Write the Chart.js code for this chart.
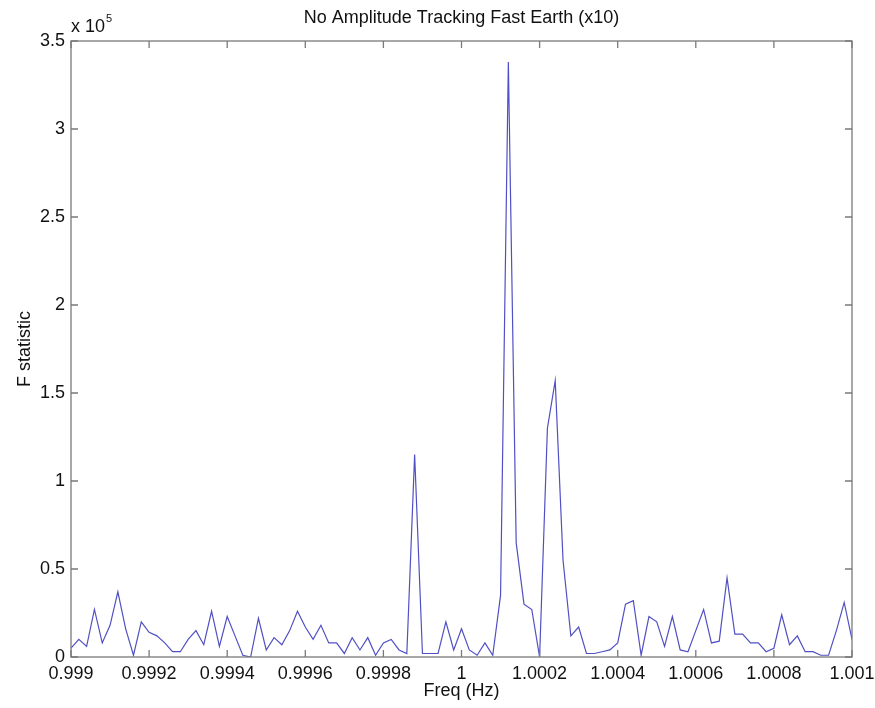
<!DOCTYPE html>
<html>
<head>
<meta charset="utf-8">
<title>No Amplitude Tracking Fast Earth (x10)</title>
<script src="https://cdn.jsdelivr.net/npm/chart.js@4/dist/chart.umd.min.js"></script>
<style>
  html, body { margin: 0; padding: 0; background: #ffffff; }
  canvas { display: block; }
</style>
</head>
<body>
<canvas id="fstat" width="875" height="708"></canvas>
<script>
// Frequency grid (Hz)
const freqHz = [
  0.99900, 0.99902, 0.99904, 0.99906, 0.99908, 0.99910, 0.99912, 0.99914, 0.99916, 0.99918,
  0.99920, 0.99922, 0.99924, 0.99926, 0.99928, 0.99930, 0.99932, 0.99934, 0.99936, 0.99938,
  0.99940, 0.99942, 0.99944, 0.99946, 0.99948, 0.99950, 0.99952, 0.99954, 0.99956, 0.99958,
  0.99960, 0.99962, 0.99964, 0.99966, 0.99968, 0.99970, 0.99972, 0.99974, 0.99976, 0.99978,
  0.99980, 0.99982, 0.99984, 0.99986, 0.99988, 0.99990, 0.99992, 0.99994, 0.99996, 0.99998,
  1.00000, 1.00002, 1.00004, 1.00006, 1.00008, 1.00010, 1.00012, 1.00014, 1.00016, 1.00018,
  1.00020, 1.00022, 1.00024, 1.00026, 1.00028, 1.00030, 1.00032, 1.00034, 1.00036, 1.00038,
  1.00040, 1.00042, 1.00044, 1.00046, 1.00048, 1.00050, 1.00052, 1.00054, 1.00056, 1.00058,
  1.00060, 1.00062, 1.00064, 1.00066, 1.00068, 1.00070, 1.00072, 1.00074, 1.00076, 1.00078,
  1.00080, 1.00082, 1.00084, 1.00086, 1.00088, 1.00090, 1.00092, 1.00094, 1.00096, 1.00098,
  1.00100
];

// F statistic, in units of 10^5
const fStatistic = [
  0.05, 0.10, 0.06, 0.27, 0.08, 0.18, 0.37, 0.16, 0.01, 0.20,
  0.14, 0.12, 0.08, 0.03, 0.03, 0.10, 0.15, 0.07, 0.26, 0.06,
  0.23, 0.12, 0.01, 0.00, 0.22, 0.04, 0.11, 0.07, 0.15, 0.26,
  0.17, 0.10, 0.18, 0.08, 0.08, 0.02, 0.11, 0.04, 0.11, 0.01,
  0.08, 0.10, 0.04, 0.02, 1.15, 0.02, 0.02, 0.02, 0.20, 0.04,
  0.16, 0.04, 0.01, 0.08, 0.01, 0.35, 3.38, 0.65, 0.30, 0.27,
  0.00, 1.30, 1.57, 0.55, 0.12, 0.17, 0.02, 0.02, 0.03, 0.04,
  0.08, 0.30, 0.32, 0.01, 0.23, 0.20, 0.06, 0.23, 0.04, 0.03,
  0.15, 0.27, 0.08, 0.09, 0.45, 0.13, 0.13, 0.08, 0.08, 0.03,
  0.05, 0.24, 0.07, 0.12, 0.03, 0.03, 0.01, 0.01, 0.15, 0.31,
  0.10
];

const yExponent = '5';
const titleText = 'No Amplitude Tracking Fast Earth (x10)';
const xTitle = 'Freq (Hz)';
const yTitle = 'F statistic';

const FONT = '"Liberation Sans", Arial, Helvetica, sans-serif';
const TEXT_COLOR = '#111111';
const AXIS_COLOR = '#7a7a7a';

// Boxed axes with inward tick marks on all four sides, plus the labels
const matlabFrame = {
  id: 'matlabFrame',
  afterDraw(chart) {
    const { ctx, chartArea: a, scales } = chart;
    const x = scales.x, y = scales.y;
    const tickLen = 7;
    ctx.save();
    ctx.strokeStyle = AXIS_COLOR;
    ctx.lineWidth = 1.3;
    ctx.strokeRect(a.left, a.top, a.right - a.left, a.bottom - a.top);
    ctx.beginPath();
    x.ticks.forEach(t => {
      const px = x.getPixelForValue(t.value);
      ctx.moveTo(px, a.bottom); ctx.lineTo(px, a.bottom - tickLen);
      ctx.moveTo(px, a.top); ctx.lineTo(px, a.top + tickLen);
    });
    y.ticks.forEach(t => {
      const py = y.getPixelForValue(t.value);
      ctx.moveTo(a.left, py); ctx.lineTo(a.left + tickLen, py);
      ctx.moveTo(a.right, py); ctx.lineTo(a.right - tickLen, py);
    });
    ctx.stroke();

    ctx.fillStyle = TEXT_COLOR;
    ctx.textBaseline = 'middle';
    ctx.textAlign = 'center';
    ctx.font = '18px ' + FONT;
    ctx.fillText(titleText, (a.left + a.right) / 2, 18);
    ctx.fillText(xTitle, (a.left + a.right) / 2, 691);

    // exponent marker above the y axis
    ctx.textAlign = 'left';
    ctx.fillText('x 10', a.left, 27);
    const w = ctx.measureText('x 10').width;
    ctx.font = '11px ' + FONT;
    ctx.fillText(yExponent, a.left + w + 1, 19);

    // rotated y title
    ctx.font = '18px ' + FONT;
    ctx.translate(25, (a.top + a.bottom) / 2);
    ctx.rotate(-Math.PI / 2);
    ctx.textAlign = 'center';
    ctx.fillText(yTitle, 0, 0);
    ctx.restore();
  }
};

new Chart(document.getElementById('fstat'), {
  type: 'line',
  data: {
    datasets: [{
      data: freqHz.map((f, i) => ({ x: f, y: fStatistic[i] })),
      borderColor: 'rgb(80, 80, 196)',
      borderWidth: 1.2,
      pointRadius: 0,
      tension: 0,
      fill: false
    }]
  },
  options: {
    responsive: false,
    animation: false,
    devicePixelRatio: 1,
    layout: { padding: { top: 41, right: 23, bottom: 0, left: 0 } },
    plugins: {
      legend: { display: false },
      title: { display: false },
      tooltip: { enabled: false }
    },
    scales: {
      x: {
        type: 'linear',
        min: 0.999,
        max: 1.001,
        afterFit(scale) {
          scale.height = 51;
          scale.paddingLeft = 0;
          scale.paddingRight = 0;
        },
        afterBuildTicks(scale) {
          const t = [];
          for (let k = 0; k <= 10; k++) t.push({ value: 0.999 + k * 0.0002 });
          scale.ticks = t;
        },
        grid: { display: false, drawTicks: false },
        border: { display: false },
        ticks: {
          autoSkip: false,
          maxRotation: 0,
          minRotation: 0,
          padding: 6,
          color: TEXT_COLOR,
          font: { family: FONT, size: 18 },
          callback: v => String(parseFloat(Number(v).toFixed(4)))
        }
      },
      y: {
        type: 'linear',
        min: 0,
        max: 3.5,
        afterFit(scale) {
          scale.width = 71;
          scale.paddingTop = 0;
          scale.paddingBottom = 0;
        },
        grid: { display: false, drawTicks: false },
        border: { display: false },
        ticks: {
          stepSize: 0.5,
          padding: 6,
          color: TEXT_COLOR,
          font: { family: FONT, size: 18 },
          callback: v => String(parseFloat(Number(v).toFixed(2)))
        }
      }
    }
  },
  plugins: [matlabFrame]
});
</script>
</body>
</html>
